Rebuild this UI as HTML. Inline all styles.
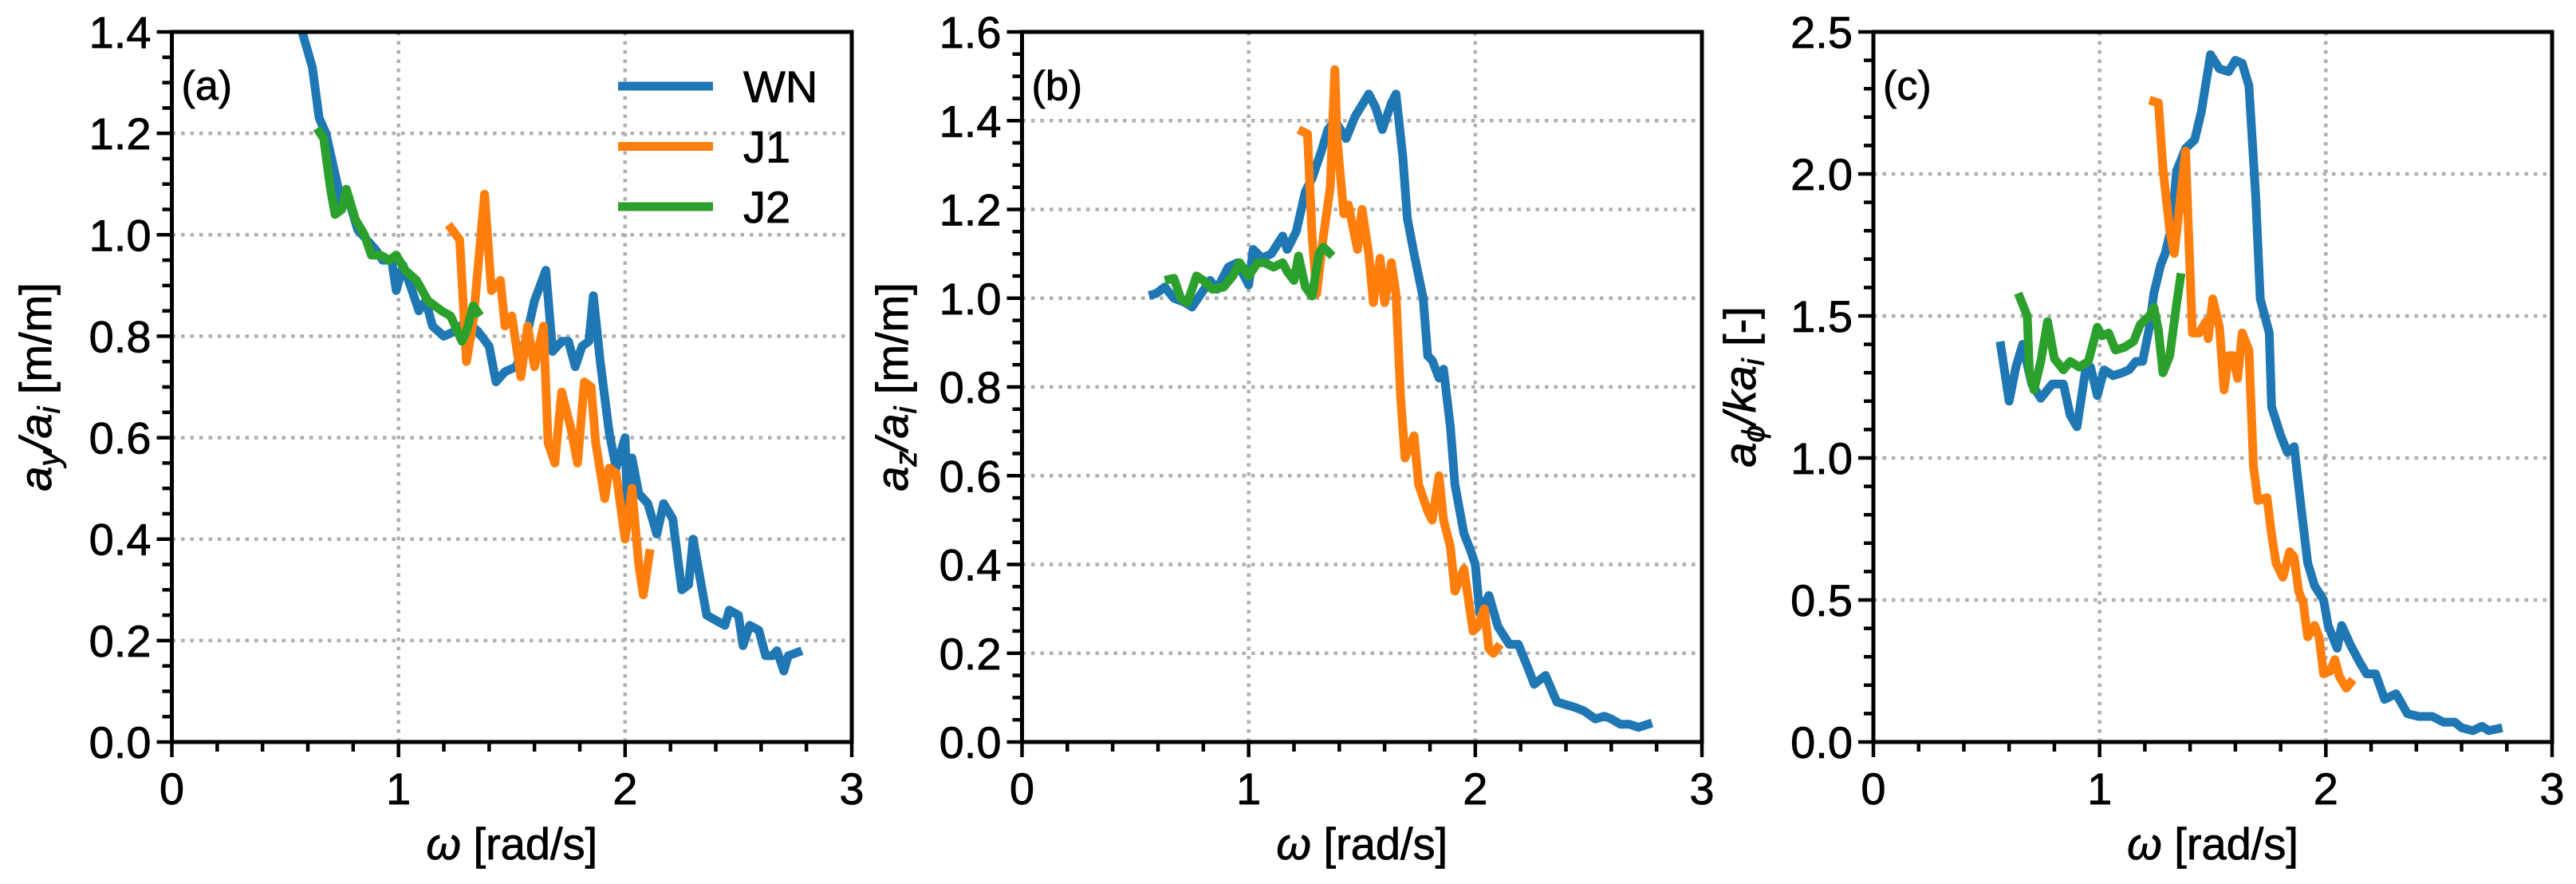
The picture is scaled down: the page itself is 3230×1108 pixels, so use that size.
<!DOCTYPE html>
<html><head><meta charset="utf-8"><style>
html,body{margin:0;padding:0;background:#fff;}
svg{display:block;font-family:"Liberation Sans",Arial,sans-serif;}
svg text{stroke:#000;stroke-width:0.8px;}
</style></head><body>
<svg id="fig" width="3230" height="1108" viewBox="0 0 3230 1108" xmlns="http://www.w3.org/2000/svg"></svg>
<script>
// ---- data ----
const xTicks=[0,1,2,3];
const xTickLabels=["0","1","2","3"];
const aYTicks=[0,0.2,0.4,0.6,0.8,1.0,1.2,1.4];
const bYTicks=[0,0.2,0.4,0.6,0.8,1.0,1.2,1.4,1.6];
const cYTicks=[0,0.5,1.0,1.5,2.0,2.5];
const aWNx=[0.575,0.62,0.65,0.68,0.72,0.75,0.78,0.82,0.86,0.9,0.93,0.97,0.99,1.02,1.06,1.09,1.12,1.15,1.2,1.25,1.3,1.35,1.4,1.43,1.47,1.52,1.56,1.6,1.65,1.68,1.72,1.75,1.78,1.81,1.84,1.86,1.89,1.93,1.96,2.0,2.01,2.03,2.06,2.1,2.14,2.17,2.21,2.25,2.28,2.3,2.36,2.44,2.46,2.5,2.52,2.55,2.59,2.62,2.65,2.67,2.7,2.72,2.78];
const aWNy=[1.40,1.33,1.23,1.20,1.12,1.06,1.07,1.01,0.99,0.97,0.95,0.95,0.89,0.94,0.89,0.85,0.87,0.82,0.80,0.81,0.83,0.81,0.78,0.71,0.73,0.74,0.79,0.87,0.93,0.77,0.79,0.79,0.74,0.78,0.79,0.88,0.75,0.61,0.54,0.60,0.46,0.56,0.49,0.47,0.41,0.47,0.44,0.30,0.31,0.40,0.25,0.23,0.26,0.25,0.19,0.23,0.22,0.17,0.17,0.18,0.14,0.17,0.18];
const aJ1x=[1.22,1.27,1.30,1.33,1.38,1.41,1.45,1.47,1.50,1.54,1.57,1.60,1.64,1.66,1.69,1.72,1.76,1.79,1.82,1.85,1.87,1.91,1.93,1.96,2.0,2.03,2.06,2.08,2.11];
const aJ1y=[1.02,0.99,0.75,0.83,1.08,0.89,0.91,0.82,0.84,0.72,0.82,0.74,0.82,0.59,0.55,0.69,0.62,0.55,0.71,0.70,0.59,0.48,0.54,0.53,0.40,0.50,0.35,0.29,0.38];
const aJ2x=[0.64,0.67,0.70,0.72,0.75,0.77,0.81,0.85,0.88,0.92,0.96,0.99,1.03,1.08,1.13,1.19,1.23,1.28,1.30,1.33,1.36];
const aJ2y=[1.21,1.19,1.09,1.04,1.05,1.09,1.03,1.00,0.96,0.96,0.95,0.96,0.93,0.91,0.87,0.85,0.84,0.79,0.81,0.86,0.84];
const bWNx=[0.56,0.59,0.63,0.67,0.72,0.75,0.79,0.83,0.86,0.91,0.95,1.0,1.02,1.06,1.10,1.15,1.17,1.21,1.25,1.28,1.32,1.35,1.38,1.43,1.47,1.53,1.56,1.59,1.63,1.65,1.68,1.70,1.73,1.77,1.79,1.81,1.84,1.86,1.89,1.91,1.95,1.98,2.0,2.02,2.06,2.10,2.15,2.19,2.23,2.26,2.31,2.36,2.40,2.44,2.48,2.53,2.57,2.60,2.64,2.68,2.72,2.78];
const bWNy=[1.006,1.01,1.025,1.0,0.99,0.98,1.01,1.04,1.02,1.07,1.08,1.03,1.11,1.09,1.10,1.14,1.11,1.15,1.24,1.27,1.33,1.38,1.40,1.36,1.41,1.46,1.43,1.38,1.44,1.46,1.32,1.18,1.10,1.0,0.87,0.86,0.82,0.84,0.71,0.58,0.47,0.43,0.40,0.29,0.33,0.26,0.22,0.22,0.17,0.13,0.15,0.09,0.084,0.078,0.07,0.052,0.058,0.052,0.04,0.04,0.033,0.043];
const bJ1x=[1.22,1.26,1.28,1.30,1.33,1.36,1.38,1.39,1.42,1.44,1.48,1.50,1.53,1.55,1.58,1.60,1.63,1.65,1.67,1.69,1.73,1.75,1.79,1.81,1.84,1.86,1.89,1.91,1.95,1.99,2.01,2.04,2.06,2.08,2.11];
const bJ1y=[1.38,1.37,1.14,1.01,1.14,1.25,1.515,1.36,1.19,1.21,1.11,1.20,1.10,0.99,1.09,0.99,1.08,1.01,0.78,0.64,0.69,0.58,0.52,0.50,0.60,0.50,0.44,0.34,0.39,0.25,0.26,0.30,0.21,0.20,0.22];
const bJ2x=[0.63,0.67,0.70,0.73,0.77,0.80,0.84,0.89,0.93,0.96,1.0,1.04,1.07,1.11,1.15,1.17,1.20,1.22,1.25,1.28,1.31,1.33,1.37];
const bJ2y=[1.04,1.045,1.0,0.99,1.05,1.04,1.02,1.025,1.05,1.08,1.05,1.08,1.08,1.07,1.08,1.06,1.04,1.095,1.025,1.005,1.10,1.115,1.095];
const cWNx=[0.56,0.60,0.63,0.66,0.70,0.74,0.79,0.84,0.87,0.90,0.94,0.96,0.99,1.02,1.06,1.10,1.13,1.16,1.19,1.22,1.24,1.27,1.29,1.32,1.34,1.38,1.42,1.45,1.49,1.53,1.57,1.60,1.63,1.66,1.69,1.71,1.75,1.76,1.80,1.83,1.86,1.89,1.92,1.95,1.99,2.01,2.05,2.07,2.11,2.15,2.18,2.22,2.26,2.31,2.36,2.41,2.47,2.52,2.57,2.60,2.65,2.69,2.72,2.78];
const cWNy=[1.41,1.20,1.32,1.40,1.26,1.21,1.26,1.26,1.15,1.11,1.32,1.32,1.22,1.31,1.29,1.30,1.31,1.34,1.34,1.46,1.58,1.68,1.72,1.82,2.01,2.09,2.12,2.22,2.42,2.37,2.36,2.40,2.39,2.31,1.92,1.56,1.44,1.18,1.08,1.02,1.04,0.83,0.63,0.55,0.50,0.41,0.33,0.41,0.34,0.28,0.24,0.24,0.15,0.17,0.10,0.09,0.09,0.07,0.07,0.05,0.04,0.055,0.04,0.05];
const cJ1x=[1.22,1.26,1.28,1.31,1.33,1.34,1.38,1.39,1.41,1.44,1.47,1.48,1.50,1.53,1.55,1.57,1.59,1.61,1.63,1.66,1.68,1.70,1.74,1.76,1.78,1.81,1.84,1.86,1.88,1.90,1.92,1.95,1.97,1.99,2.02,2.04,2.06,2.09,2.12];
const cJ1y=[2.26,2.25,2.02,1.80,1.72,1.79,2.08,1.86,1.44,1.44,1.48,1.42,1.56,1.46,1.24,1.36,1.36,1.28,1.44,1.38,0.97,0.85,0.86,0.73,0.63,0.58,0.67,0.65,0.53,0.49,0.37,0.41,0.37,0.24,0.25,0.29,0.23,0.19,0.22];
const cJ2x=[0.64,0.68,0.69,0.71,0.74,0.77,0.80,0.84,0.87,0.91,0.95,0.97,0.99,1.01,1.04,1.07,1.11,1.15,1.18,1.22,1.24,1.26,1.28,1.31,1.34,1.36];
const cJ2y=[1.58,1.50,1.30,1.24,1.34,1.48,1.35,1.31,1.34,1.32,1.34,1.40,1.46,1.43,1.44,1.38,1.39,1.41,1.47,1.50,1.53,1.45,1.30,1.36,1.54,1.65];

const NS="http://www.w3.org/2000/svg";
const svg=document.getElementById('fig');
const COLORS={WN:"#1f77b4",J1:"#ff7f0e",J2:"#2ca02c"};
function mk(tag,attrs,parent){const e=document.createElementNS(NS,tag);for(const k in attrs)e.setAttribute(k,attrs[k]);(parent||svg).appendChild(e);return e;}

const TOP=40,BOT=930;
const FS=56;
function panel(id,left,right,ymax,yTicks,yMinorStep,yLabelParts,yLabelX,letter,series,showLegend){
  const g=mk('g',{});
  
  
  const xs=v=>left+(v/3)*(right-left);
  const ys=v=>BOT-(v/ymax)*(BOT-TOP);
  const cp=mk('clipPath',{id:'clip-'+id},g);
  mk('rect',{x:left,y:TOP,width:right-left,height:BOT-TOP},cp);
  const grid=mk('g',{},g);
  
  
  xTicks.forEach(t=>{if(t>0&&t<3){mk('line',{x1:xs(t),x2:xs(t),y1:TOP,y2:BOT,stroke:'#b0b0b0','stroke-width':4.5,'stroke-dasharray':'4.5 7'},grid);}});
  yTicks.forEach(t=>{if(t>0&&t<ymax){mk('line',{x1:left,x2:right,y1:ys(t),y2:ys(t),stroke:'#b0b0b0','stroke-width':4.5,'stroke-dasharray':'4.5 7'},grid);}});
  series.forEach(s=>{
    const pts=s.x.map((v,i)=>xs(v).toFixed(1)+','+ys(s.y[i]).toFixed(1)).join(' ');
    const pl=mk('polyline',{points:pts,fill:'none',stroke:COLORS[s.name],'stroke-width':11,'stroke-linejoin':'round','clip-path':'url(#clip-'+id+')'},g);
    
    
  });
  const tk=mk('g',{stroke:'#000','stroke-width':4.5},g);
  
  
  for(let k=0;k<=15;k++){const v=k*0.2;const major=(k%5===0);mk('line',{x1:xs(v),x2:xs(v),y1:BOT,y2:BOT+(major?19:12)},tk);}
  const nMin=Math.round(ymax/yMinorStep);
  for(let k=0;k<=nMin;k++){const v=k*yMinorStep;const major=yTicks.some(t=>Math.abs(t-v)<1e-6);mk('line',{x1:left,x2:left-(major?19:12),y1:ys(v),y2:ys(v)},tk);}
  const sp=mk('rect',{x:left,y:TOP,width:right-left,height:BOT-TOP,fill:'none',stroke:'#000','stroke-width':5},g);
  
  
  xTicks.forEach((t,i)=>{const tx=mk('text',{x:xs(t),y:1008,'font-size':FS,'text-anchor':'middle'},g);tx.textContent=xTickLabels[i];
    
    });
  yTicks.forEach(t=>{const tx=mk('text',{x:left-26,y:ys(t)+20,'font-size':FS,'text-anchor':'end'},g);tx.textContent=t.toFixed(1);
    
    });
  const xl=mk('text',{x:(left+right)/2,y:1077,'font-size':FS,'text-anchor':'middle'},g);
  
  
  const w=mk('tspan',{'font-style':'italic'},xl);w.textContent='ω';
  const w2=mk('tspan',{},xl);w2.textContent=' [rad/s]';
  const yl=mk('text',{x:0,y:0,'font-size':FS,'text-anchor':'middle',transform:'translate('+(yLabelX+18)+','+((TOP+BOT)/2)+') rotate(-90)'},g);
  
  
  yLabelParts.forEach(p=>{const ts=mk('tspan',{},yl);if(p.i)ts.setAttribute('font-style','italic');if(p.sub){ts.setAttribute('font-size',39);ts.setAttribute('dy',11);}if(p.up){ts.setAttribute('dy',-11);}ts.textContent=p.t;});
  const lt=mk('text',{x:left+12,y:125,'font-size':52},g);lt.textContent=letter;
  
  
  if(showLegend){
    const lg=mk('g',{},g);
    
    
    ['WN','J1','J2'].forEach((n,i)=>{
      const yy=108+i*75.5;
      const e=mk('g',{},lg);
      
      
      mk('line',{x1:775,x2:894,y1:yy,y2:yy,stroke:COLORS[n],'stroke-width':11},e);
      const t=mk('text',{x:932,y:yy+20,'font-size':56},e);t.textContent=n;
    });
  }
}
panel('a',215.5,1068,1.4,aYTicks,0.05,[{t:'a',i:1},{t:'y',i:1,sub:1},{t:'/a',i:1,up:1},{t:'i',i:1,sub:1},{t:' [m/m]',up:1}],46,'(a)',
  [{name:'WN',x:aWNx,y:aWNy},{name:'J1',x:aJ1x,y:aJ1y},{name:'J2',x:aJ2x,y:aJ2y}],true);
panel('b',1281.5,2134,1.6,bYTicks,0.05,[{t:'a',i:1},{t:'z',i:1,sub:1},{t:'/a',i:1,up:1},{t:'i',i:1,sub:1},{t:' [m/m]',up:1}],1120,'(b)',
  [{name:'WN',x:bWNx,y:bWNy},{name:'J1',x:bJ1x,y:bJ1y},{name:'J2',x:bJ2x,y:bJ2y}],false);
panel('c',2349,3200,2.5,cYTicks,0.1,[{t:'a',i:1},{t:'ϕ',i:1,sub:1},{t:'/ka',i:1,up:1},{t:'i',i:1,sub:1},{t:' [-]',up:1}],2183,'(c)',
  [{name:'WN',x:cWNx,y:cWNy},{name:'J1',x:cJ1x,y:cJ1y},{name:'J2',x:cJ2x,y:cJ2y}],false);
</script>
</body></html>
